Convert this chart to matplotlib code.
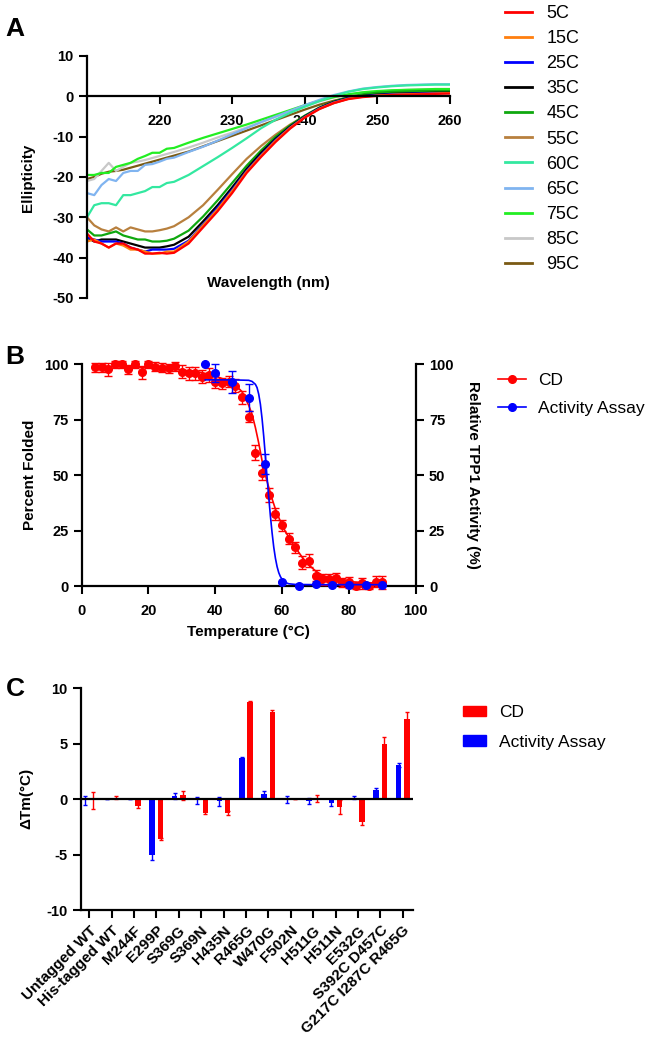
import matplotlib
matplotlib.use("Agg")
import matplotlib.pyplot as plt
import numpy as np
from matplotlib.lines import Line2D
from matplotlib.patches import Patch

plt.rcParams['font.family'] = ['Liberation Sans', 'DejaVu Sans']
plt.rcParams['axes.unicode_minus'] = False

# ---------------- Panel A: CD spectra ----------------
wavelength = [210, 211, 212, 213, 214, 215, 216, 217, 218, 219, 220, 221, 222,
              224, 226, 228, 230, 232, 234, 236, 238, 240, 242, 244, 246, 248,
              250, 252, 254, 256, 258, 260]

temps_a = ['5C', '15C', '25C', '35C', '45C', '55C', '60C', '65C', '75C', '85C', '95C']
colors_a = ['#ff0000', '#ff7f0e', '#0000ff', '#000000', '#0fa80f', '#b8803e',
            '#33e8a0', '#80b4f0', '#22ee22', '#c8c8c8', '#7a5a14']

cd_5 = [-34, -36, -36.5, -37.5, -36.5, -36.5, -37.5, -38, -39, -39, -38.8, -39, -38.8,
        -36.5, -32.5, -28.5, -24, -19, -15, -11.3, -8, -5.3, -3.2, -1.7, -0.7, -0.2,
        0.1, 0.3, 0.4, 0.5, 0.6, 0.7]
cd_15 = [-36, -35.5, -36.5, -37.5, -36.5, -37, -38, -38, -38.5, -39, -39, -38.5, -38.5,
         -36, -32, -28, -23.5, -18.7, -14.7, -11, -7.8, -5.2, -3.1, -1.6, -0.6, -0.1,
         0.2, 0.4, 0.5, 0.6, 0.7, 0.8]
cd_25 = [-35, -35.5, -36, -36, -36, -36.5, -37.5, -38, -38.5, -38, -38, -38, -37.8,
         -35.8, -31.8, -27.6, -23.2, -18.5, -14.5, -10.8, -7.7, -5.1, -3.0, -1.5, -0.5, 0,
         0.3, 0.5, 0.6, 0.7, 0.8, 0.8]
cd_35 = [-35, -36, -35.5, -35.5, -35.5, -36, -36.5, -37, -37.5, -37.5, -37.5, -37.2, -36.8,
         -34.8, -31, -27, -22.6, -18, -14, -10.5, -7.5, -5, -2.9, -1.4, -0.4, 0.1,
         0.4, 0.6, 0.7, 0.8, 0.9, 0.9]
cd_45 = [-33, -34.5, -34.5, -34, -33.5, -34.5, -35, -35.5, -35.5, -36, -36, -35.8, -35.3,
         -33.3, -29.8, -25.8, -21.5, -17.2, -13.4, -10, -7.2, -4.8, -2.8, -1.3, -0.2, 0.5,
         0.9, 1.1, 1.2, 1.3, 1.3, 1.3]
cd_55 = [-30, -32, -33, -33.5, -32.5, -33.5, -32.5, -33, -33.5, -33.5, -33.2, -32.8, -32.2,
         -30, -27, -23.2, -19.3, -15.5, -12.3, -9.5, -7, -4.9, -3.1, -1.7, -0.6, 0.1,
         0.5, 0.7, 0.8, 0.9, 1.0, 1.0]
cd_60 = [-30, -27, -26.5, -26.5, -27, -24.5, -24.5, -24, -23.5, -22.5, -22.5, -21.5, -21.2,
         -19.5, -17.3, -15.1, -12.8, -10.4, -7.9, -5.8, -4.1, -2.6, -1.2, 0.1, 1.1, 1.8,
         2.2, 2.5, 2.7, 2.8, 2.9, 2.9]
cd_65 = [-24, -24.5, -22, -20.5, -21, -19, -18.5, -18.5, -17, -16.8, -16.2, -15.5, -15.2,
         -13.8, -12.5, -11, -9.4, -7.9, -6.4, -5, -3.6, -2.2, -0.9, 0.3, 1.2, 1.9,
         2.3, 2.6, 2.8, 2.9, 3.0, 3.0]
cd_75 = [-19.5, -19.5, -19, -19, -17.5, -17, -16.5, -15.5, -14.8, -14, -14, -13, -12.8,
         -11.5, -10.3, -9.2, -8.1, -7, -5.8, -4.6, -3.4, -2.2, -1.1, -0.2, 0.5, 1,
         1.3, 1.5, 1.6, 1.7, 1.8, 1.8]
cd_85 = [-21, -20.5, -18.5, -16.5, -18.5, -17.5, -16.5, -16.2, -15.8, -15.3, -14.8, -14.3, -13.8,
         -12.7, -11.5, -10.2, -9, -7.7, -6.4, -5.1, -3.8, -2.5, -1.3, -0.3, 0.4, 0.9,
         1.2, 1.4, 1.6, 1.7, 1.8, 1.8]
cd_95 = [-20.5, -20, -19.2, -18.7, -18.5, -18.2, -17.7, -17.2, -16.7, -16.2, -15.7, -15.2, -14.7,
         -13.7, -12.4, -11.1, -9.8, -8.5, -7.2, -5.9, -4.6, -3.3, -2.1, -1.1, -0.3, 0.3,
         0.7, 0.9, 1.0, 1.1, 1.2, 1.2]
spectra = [cd_5, cd_15, cd_25, cd_35, cd_45, cd_55, cd_60, cd_65, cd_75, cd_85, cd_95]

# ---------------- Panel B: thermal melt ----------------
cd_temp = [4, 6, 8, 10, 12, 14, 16, 18, 20, 22, 24, 26, 28, 30, 32, 34, 36, 38, 40, 42, 44,
           46, 48, 50, 52, 54, 56, 58, 60, 62, 64, 66, 68, 70, 72, 74, 76, 78, 80, 82, 84,
           86, 88, 90]
cd_folded = [98.6, 98.6, 97.7, 100, 100, 97.7, 100, 96.4, 100, 98.9, 98.5, 98.2, 99.2, 96.7,
             96, 96, 94.4, 95.2, 92.2, 91.5, 92.2, 90.4, 85.1, 76.4, 60.2, 51.2, 41.1, 32.5,
             27.3, 21.3, 17.5, 10.6, 11.5, 4.6, 3.1, 3.1, 3.5, 1.7, 1.7, 0, 1.2, 0, 2, 1.7]
cd_err = [2, 2, 3, 1.5, 1.5, 2, 1.5, 3, 1.5, 2, 2, 2, 2, 3, 3, 3, 3, 3, 3, 2.5, 2.5,
          3, 3, 2.5, 3.5, 3.5, 3, 2.5, 2.5, 2.5, 2.5, 3, 3, 2.5, 2.5, 2.5, 2.5, 2, 2.5, 1.5, 2.5,
          1.5, 2.5, 3]
cd_fit_t = [4, 10, 20, 30, 36, 40, 44, 46, 48, 50, 51, 52, 53, 54, 55, 56, 57, 58, 59, 60,
            61, 62, 63, 64, 66, 68, 70, 72, 75, 80, 85, 90]
cd_fit = [99.2, 99.0, 98.5, 97.5, 96.3, 94.8, 92.4, 90.6, 87.7, 81.5, 77.5, 71.5, 64.5,
          56.5, 50, 44.5, 39.3, 34.7, 30.9, 27.5, 24.5, 22, 19.5, 17.3, 13, 9.5, 6.8, 4.9,
          3.2, 2.0, 1.5, 1.3]

act_temp = [37, 40, 45, 50, 55, 60, 65, 70, 75, 80, 85, 90]
act_value = [100, 96.2, 92.2, 85, 55, 1.7, 0, 1.0, 0.5, 0.5, 0.5, 0.5]
act_err = [0, 4, 5, 6, 4.5, 0, 0, 0, 0, 0, 0, 0]
act_fit_t = [37, 45, 50, 51, 52, 52.5, 53, 53.5, 54, 54.5, 55, 55.5, 56, 56.5, 57, 57.5,
             58, 58.5, 59, 59.5, 60, 61, 62, 64, 70, 90]
act_fit = [93, 93, 92.8, 92.3, 91, 89.5, 86.5, 82, 75.5, 67.5, 58.5, 49, 40, 31.5, 24,
           17.5, 12.5, 8.7, 6, 4.2, 3, 1.6, 1.0, 0.7, 0.6, 0.6]

# ---------------- Panel C: delta Tm ----------------
mutants = ['Untagged WT', 'His-tagged WT', 'M244F', 'E299P', 'S369G', 'S369N', 'H435N',
           'R465G', 'W470G', 'F502N', 'H511G', 'H511N', 'E532G', 'S392C D457C',
           'G217C I287C R465G']
dtm_cd = [-0.1, 0.15, -0.6, -3.6, 0.35, -1.2, -1.25, 8.8, 7.9, 0, 0.05, -0.7, -2.05, 5.0, 7.2]
dtm_cd_err = [0.75, 0.15, 0.15, 0.1, 0.4, 0.15, 0.2, 0.05, 0.15, 0, 0.3, 0.65, 0.3, 0.6, 0.65]
dtm_act = [-0.1, 0.0, 0.0, -5.0, 0.3, -0.1, -0.2, 3.75, 0.5, 0.0, -0.15, -0.3, 0.15, 0.8, 3.1]
dtm_act_err = [0.4, 0.0, 0.0, 0.45, 0.25, 0.3, 0.4, 0.1, 0.2, 0.3, 0.3, 0.35, 0.1, 0.25, 0.2]

fig = plt.figure(figsize=(6.55, 10.5), dpi=100)

tick_kw = dict(direction='out', length=6, width=1.5, labelsize=10.5)

def bold_ticks(ax):
    for lab in ax.get_xticklabels() + ax.get_yticklabels():
        lab.set_fontweight('bold')

# ---- A ----
axA = fig.add_axes([0.1328, 0.7162, 0.554, 0.2305])
handles = []
for i in range(len(spectra) - 1, -1, -1):
    axA.plot(wavelength, spectra[i], color=colors_a[i], lw=1.6)
for i in range(len(spectra)):
    handles.append(Line2D([], [], color=colors_a[i], lw=2))
axA.set_xlim(210, 260)
axA.set_ylim(-50, 10)
axA.spines['top'].set_visible(False)
axA.spines['right'].set_visible(False)
axA.spines['bottom'].set_position(('data', 0))
for s in ['left', 'bottom']:
    axA.spines[s].set_linewidth(1.6)
axA.set_xticks([220, 230, 240, 250, 260])
axA.set_yticks(np.arange(-50, 11, 10))
axA.tick_params(**tick_kw)
axA.tick_params(axis='x', pad=7)
bold_ticks(axA)
axA.text(0.5, 0.062, 'Wavelength (nm)', transform=axA.transAxes, ha='center', va='center',
         fontsize=11, fontweight='bold')
fig.text(28 / 655, 1 - 178 / 1050, 'Ellipticity', rotation=90, ha='center', va='center',
         fontsize=11, fontweight='bold')
fig.legend(handles, temps_a, loc='upper left', bbox_to_anchor=(505 / 655, 1 - 5 / 1050),
           frameon=False, fontsize=13, handlelength=1.5, handletextpad=0.8,
           labelspacing=0.45, borderpad=0, borderaxespad=0)

# ---- B ----
axB = fig.add_axes([0.1247, 0.4419, 0.510, 0.2111])
axB.plot(cd_fit_t, cd_fit, color='#ff0000', lw=1.2, zorder=3)
axB.errorbar(cd_temp, cd_folded, yerr=cd_err, fmt='o', color='#ff0000', ms=5.5,
             elinewidth=1, capsize=3, capthick=1, zorder=4)
axB.set_xlim(0, 100)
axB.set_ylim(0, 100)
axB.set_xticks(np.arange(0, 101, 20))
axB.set_yticks(np.arange(0, 101, 25))
axB.spines['top'].set_visible(False)
axB.spines['right'].set_visible(False)
for s in ['left', 'bottom']:
    axB.spines[s].set_linewidth(1.6)
axB.tick_params(**tick_kw)
axB.tick_params(axis='x', pad=7)
bold_ticks(axB)

axB2 = axB.twinx()
axB2.plot(act_fit_t, act_fit, color='#0000ff', lw=1.2, zorder=3)
axB2.errorbar(act_temp, act_value, yerr=act_err, fmt='o', color='#0000ff', ms=5.5,
              elinewidth=1, capsize=3, capthick=1, zorder=4)
axB2.set_ylim(0, 100)
axB2.set_yticks(np.arange(0, 101, 25))
axB2.spines['top'].set_visible(False)
axB2.spines['left'].set_visible(False)
axB2.spines['bottom'].set_visible(False)
axB2.spines['right'].set_linewidth(1.6)
axB2.tick_params(**tick_kw)
bold_ticks(axB2)
for art in axB.get_children() + axB2.get_children():
    try:
        art.set_clip_on(False)
    except Exception:
        pass

fig.text(248 / 655, 1 - 632 / 1050, 'Temperature (°C)', ha='center', va='center',
         fontsize=11, fontweight='bold')
fig.text(30 / 655, 1 - 475 / 1050, 'Percent Folded', rotation=90, ha='center', va='center',
         fontsize=11, fontweight='bold')
fig.text(473 / 655, 1 - 475 / 1050, 'Relative TPP1 Activity (%)', rotation=270,
         ha='center', va='center', fontsize=11, fontweight='bold')
b_handles = [Line2D([], [], color='#ff0000', marker='o', ms=5.5, lw=1.2),
             Line2D([], [], color='#0000ff', marker='o', ms=5.5, lw=1.2)]
fig.legend(b_handles, ['CD', 'Activity Assay'], loc='upper left',
           bbox_to_anchor=(498 / 655, 1 - 373 / 1050), frameon=False, fontsize=12.5,
           handlelength=1.6, handletextpad=0.7, labelspacing=0.75, borderpad=0,
           borderaxespad=0)

# ---- C ----
axC = fig.add_axes([0.1232, 0.1333, 0.5073, 0.2111])
x = np.arange(len(mutants))
bw = 0.25
axC.bar(x - 0.185, dtm_act, width=bw, color='#0000ff', zorder=3)
axC.bar(x + 0.185, dtm_cd, width=bw, color='#ff0000', zorder=3)
axC.errorbar(x - 0.185, dtm_act, yerr=dtm_act_err, fmt='none', ecolor='#0000ff',
             elinewidth=1, capsize=1.5, capthick=1, zorder=4)
axC.errorbar(x + 0.185, dtm_cd, yerr=dtm_cd_err, fmt='none', ecolor='#ff0000',
             elinewidth=1, capsize=1.5, capthick=1, zorder=4)
axC.axhline(0, color='black', lw=1.6, zorder=5)
axC.set_xlim(-0.38, 14.46)
axC.set_ylim(-10, 10)
axC.set_yticks([-10, -5, 0, 5, 10])
axC.set_xticks(x)
axC.set_xticklabels(mutants, rotation=45, ha='right', rotation_mode='anchor')
axC.spines['top'].set_visible(False)
axC.spines['right'].set_visible(False)
for s in ['left', 'bottom']:
    axC.spines[s].set_linewidth(1.6)
axC.tick_params(**tick_kw)
axC.tick_params(axis='x', labelsize=11)
bold_ticks(axC)
fig.text(26 / 655, 1 - 798 / 1050, 'ΔTm(°C)', rotation=90, ha='center', va='center',
         fontsize=11, fontweight='bold')
c_handles = [Patch(color='#ff0000'), Patch(color='#0000ff')]
fig.legend(c_handles, ['CD', 'Activity Assay'], loc='upper left',
           bbox_to_anchor=(463 / 655, 1 - 705 / 1050), frameon=False, fontsize=12.5,
           handlelength=1.35, handleheight=0.55, handletextpad=0.75, labelspacing=0.85,
           borderpad=0, borderaxespad=0)

# panel letters
for letter, ypx in [('A', 29), ('B', 357), ('C', 689)]:
    fig.text(15 / 655, 1 - ypx / 1050, letter, ha='center', va='center',
             fontsize=19, fontweight='bold')

fig.savefig('out.png', dpi=100)
